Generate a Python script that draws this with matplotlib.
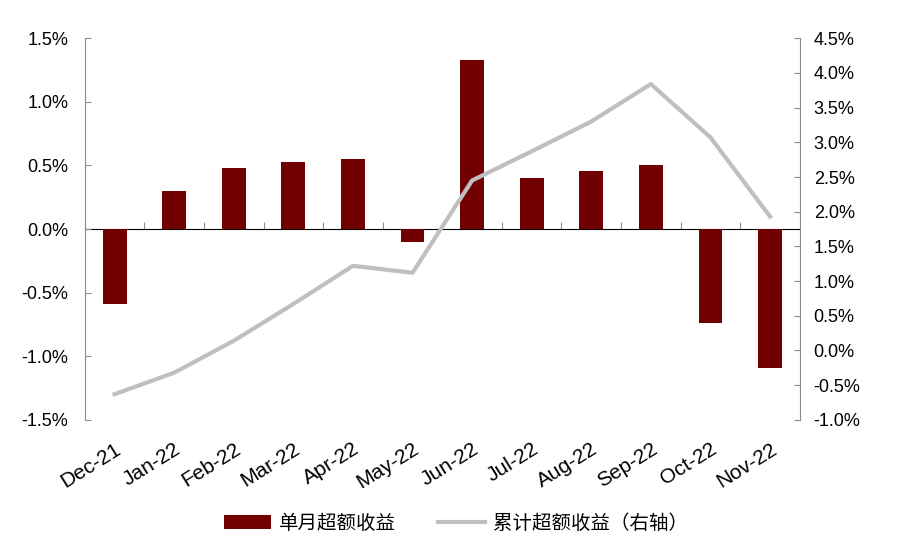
import numpy as np
import matplotlib.pyplot as plt
from matplotlib.ticker import FuncFormatter, NullFormatter

plt.rcParams['font.family'] = ['Liberation Sans', 'Noto Sans CJK SC', 'DejaVu Sans']

months = ["Dec-21", "Jan-22", "Feb-22", "Mar-22", "Apr-22", "May-22",
          "Jun-22", "Jul-22", "Aug-22", "Sep-22", "Oct-22", "Nov-22"]
monthly = [-0.59, 0.30, 0.48, 0.53, 0.55, -0.10, 1.33, 0.40, 0.46, 0.50, -0.74, -1.09]
cumulative = [-0.63, -0.32, 0.14, 0.67, 1.22, 1.12, 2.45, 2.87, 3.30, 3.84, 3.07, 1.93]
left_ticks = [-1.5, -1.0, -0.5, 0.0, 0.5, 1.0, 1.5]
right_ticks = [-1.0, -0.5, 0.0, 0.5, 1.0, 1.5, 2.0, 2.5, 3.0, 3.5, 4.0, 4.5]

bar_color = "#720000"
line_color = "#bfbfbf"
axis_color = "#8c8c8c"

fig = plt.figure(figsize=(9.12, 5.46), dpi=100)
ax = fig.add_axes([0.093, 0.231, 0.784, 0.699])
ax2 = ax.twinx()

x = np.arange(len(months))
ax.bar(x, monthly, width=0.4, color=bar_color, label="单月超额收益", zorder=2)
ax2.plot(x, cumulative, color=line_color, lw=3, label="累计超额收益（右轴）", zorder=3)

ax.set_xlim(-0.5, len(months) - 0.5)
ax.set_ylim(-1.5, 1.5)
ax2.set_ylim(-1.0, 4.5)
ax.set_yticks(left_ticks)
ax2.set_yticks(right_ticks)
fmt = FuncFormatter(lambda v, p: f"{v:.1f}%")
ax.yaxis.set_major_formatter(fmt)
ax2.yaxis.set_major_formatter(fmt)

# category labels at the bottom, no tick marks there
ax.set_xticks(x)
ax.set_xticklabels(months, rotation=32, ha="right", rotation_mode="anchor")
ax.tick_params(axis="x", length=0, pad=14, labelsize=15)

# zero line with category boundary ticks (zero sits at middle of left axis)
zero_ax = ax.secondary_xaxis(0.5)
zero_ax.set_xticks(np.arange(0.5, len(months) - 1, 1.0))
zero_ax.xaxis.set_major_formatter(NullFormatter())
zero_ax.tick_params(axis="x", length=5, color=axis_color, direction="out")
zero_ax.spines["bottom"].set_color(axis_color)

ax.tick_params(axis="y", direction="in", length=4, color=axis_color, labelsize=13, pad=12)
ax2.tick_params(axis="y", direction="in", length=4, color=axis_color, labelsize=13, pad=10)

for a in (ax, ax2):
    a.spines["top"].set_visible(False)
    a.spines["bottom"].set_visible(False)
    a.spines["left"].set_color(axis_color)
    a.spines["right"].set_color(axis_color)
ax2.spines["left"].set_visible(False)
ax.spines["right"].set_visible(False)

h1, l1 = ax.get_legend_handles_labels()
h2, l2 = ax2.get_legend_handles_labels()
fig.legend(h1 + h2, l1 + l2, loc="center", bbox_to_anchor=(0.5, 0.042), ncol=2,
           frameon=False, handlelength=2.4, columnspacing=2.2, handletextpad=0.4,
           prop={"family": ["Noto Sans CJK SC"], "size": 14})

fig.savefig("out.png", dpi=100)
